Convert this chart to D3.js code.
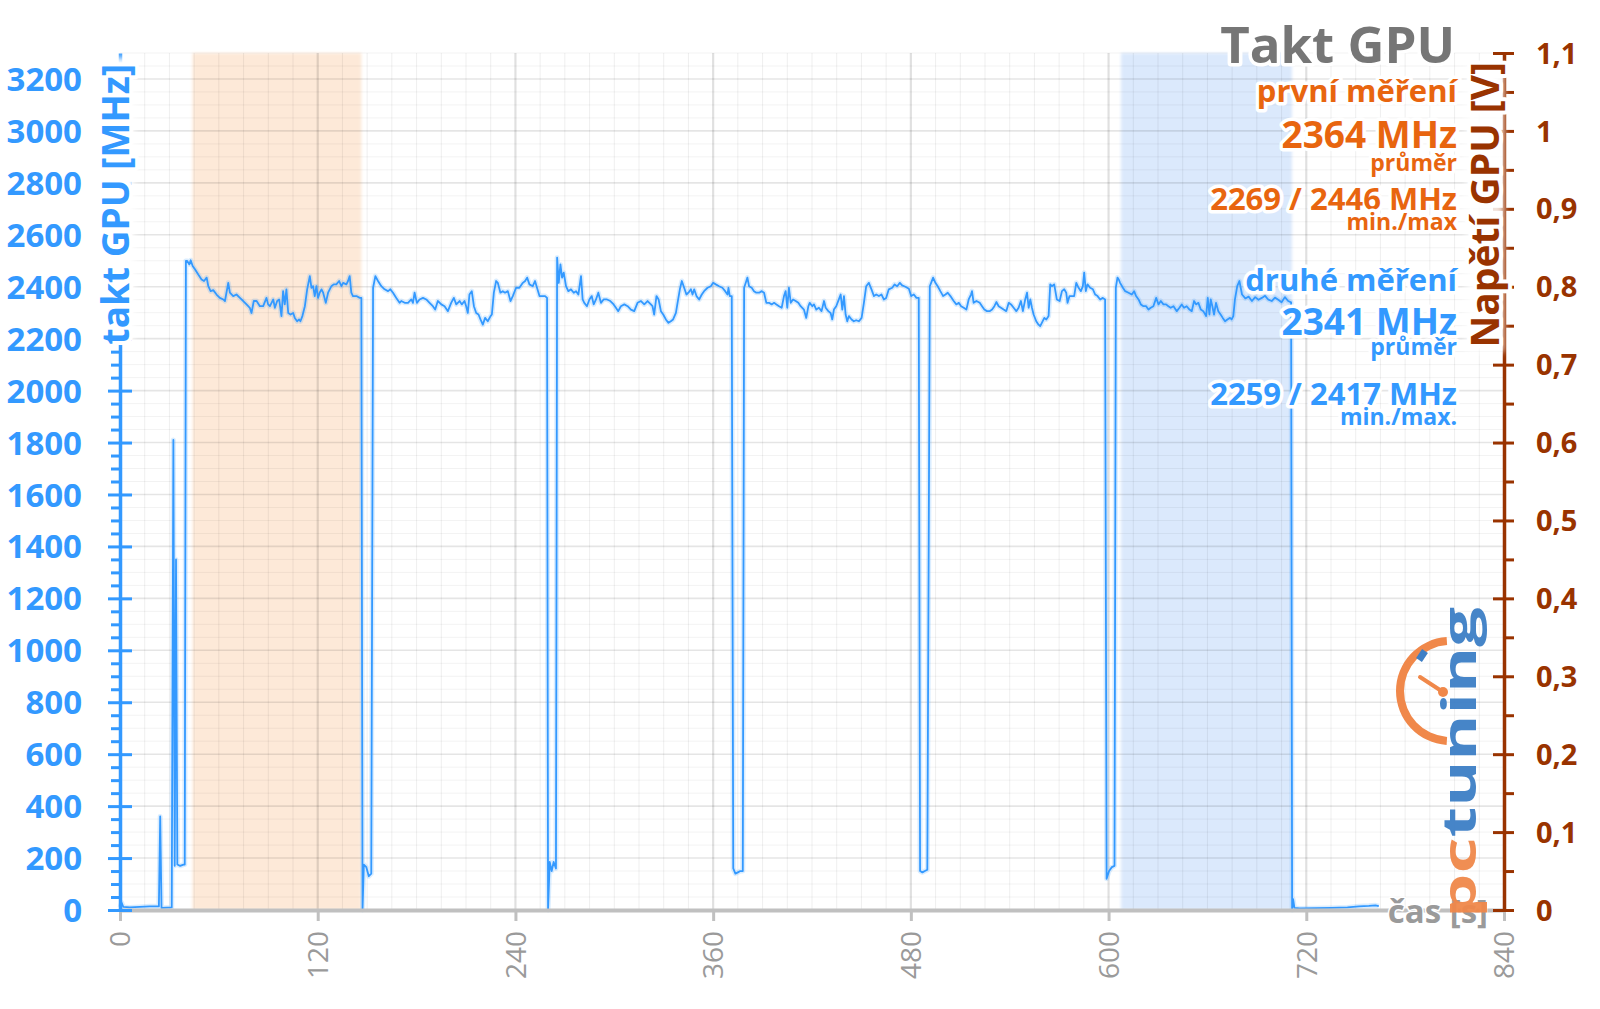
<!DOCTYPE html>
<html><head><meta charset="utf-8">
<script src="https://cdn.jsdelivr.net/npm/d3@7"></script>
<style>body{margin:0;background:#fff}svg{display:block}text{font-family:'Open Sans',sans-serif}</style>
</head><body><svg id="c" width="1600" height="1009"></svg>
<script>
// ---------- DATA (time in s, GPU clock in MHz) ----------
const warmup = [[0,10],[1,28],[2,12],[6,10],[12,12],[18,14],[23.6,14],[24.4,360],[25.2,8],[31.4,10],[32.4,1810],[33.2,170],[34.0,1350],[34.8,175],[36.5,170],[38.5,175],[39.3,175]];
const run1 = [[40.0,2499],[40.8,2499],[42.1,2486],[42.9,2502],[44.1,2480],[45.5,2467],[47.5,2447],[49.5,2428],[51.0,2422],[52.6,2435],[53.6,2402],[55.0,2383],[56.6,2387],[58.6,2370],[60.6,2357],[62.7,2351],[63.7,2345],[65.7,2415],[66.7,2377],[68.7,2364],[70.7,2370],[72.8,2357],[74.8,2345],[76.8,2332],[78.8,2319],[79.8,2299],[81.2,2345],[82.9,2345],[84.9,2325],[86.9,2325],[88.9,2357],[89.9,2332],[91.0,2325],[93.0,2351],[94.0,2319],[95.4,2345],[96.6,2351],[98.0,2287],[99.0,2383],[100.0,2332],[101.0,2390],[102.1,2299],[103.5,2293],[105.1,2299],[106.1,2280],[107.5,2267],[108.7,2274],[109.5,2267],[110.7,2287],[112.2,2325],[113.6,2390],[115.2,2441],[116.2,2396],[117.2,2402],[118.2,2364],[119.2,2402],[120.2,2357],[121.2,2377],[122.3,2390],[123.3,2377],[124.9,2338],[126.3,2377],[128.3,2402],[129.7,2409],[131.3,2409],[133.0,2422],[134.4,2402],[135.4,2415],[137.4,2409],[138.4,2422],[139.4,2441],[140.4,2377],[141.4,2364],[143.5,2364],[145.5,2357],[146.5,2357]];
const dip1 = [[147.2,0],[148,175],[149.5,165],[151,130],[152.5,140]];
const run2 = [[153.6,2396],[155.0,2441],[156.6,2422],[158.6,2402],[160.6,2390],[162.7,2383],[164.1,2390],[165.7,2377],[167.7,2357],[169.7,2338],[170.7,2345],[172.8,2338],[174.8,2338],[176.8,2351],[177.8,2338],[178.8,2377],[180.2,2338],[181.8,2351],[183.9,2357],[185.9,2351],[187.9,2338],[189.9,2325],[191.3,2312],[192.9,2345],[195.0,2332],[197.0,2325],[199.0,2306],[201.0,2338],[202.6,2357],[204.1,2332],[206.1,2345],[207.5,2332],[209.1,2345],[210.1,2325],[211.1,2299],[212.1,2370],[213.5,2383],[214.8,2325],[216.2,2299],[217.6,2293],[218.8,2274],[220.2,2254],[221.6,2280],[223.2,2267],[224.9,2287],[225.7,2293],[226.9,2377],[228.3,2422],[229.3,2415],[230.9,2377],[232.3,2383],[233.7,2377],[235.4,2383],[237.0,2345],[238.4,2364],[240.4,2396],[242.4,2396],[244.5,2415],[245.9,2422],[247.1,2435],[248.5,2409],[250.5,2402],[251.9,2422],[253.1,2396],[254.6,2364],[256.0,2364],[258.0,2364],[259.2,2357]];
const dip2 = [[259.8,0],[260.8,185],[262,150],[263.2,185],[264.6,160]];
const run3 = [[265.3,2512],[266.3,2415],[267.3,2486],[268.3,2435],[269.3,2454],[270.7,2402],[272.1,2383],[273.7,2390],[275.4,2377],[276.8,2383],[278.2,2370],[279.8,2441],[280.8,2351],[281.8,2338],[283.4,2325],[284.9,2351],[286.3,2364],[287.5,2332],[288.9,2351],[290.3,2377],[291.9,2338],[293.5,2351],[295.6,2351],[297.6,2345],[299.6,2332],[301.0,2319],[302.4,2306],[304.0,2325],[306.1,2332],[308.1,2325],[310.1,2312],[312.1,2306],[314.1,2338],[316.2,2345],[318.2,2332],[320.2,2345],[322.2,2332],[323.2,2325],[324.2,2293],[325.6,2364],[326.9,2351],[328.3,2306],[329.7,2293],[331.3,2274],[332.9,2261],[334.3,2267],[335.7,2274],[337.4,2299],[338.4,2338],[339.8,2390],[341.0,2422],[342.4,2396],[343.8,2370],[345.0,2377],[346.5,2390],[347.5,2370],[348.5,2390],[349.9,2364],[351.5,2351],[353.1,2370],[354.5,2383],[356.6,2396],[358.6,2402],[360.0,2415],[361.6,2409],[363.6,2402],[365.6,2396],[367.3,2383],[368.7,2370],[369.3,2396],[370.1,2364],[371.3,2364]];
const dip3 = [[372.2,160],[373.5,140],[375,145],[376.5,150],[378,150]];
const run4 = [[378.8,2396],[379.8,2415],[380.8,2435],[381.8,2402],[383.4,2396],[384.8,2383],[386.2,2377],[387.9,2377],[389.5,2383],[390.9,2377],[392.3,2338],[393.9,2338],[395.5,2332],[397.0,2338],[398.4,2332],[400.0,2325],[401.6,2319],[403.0,2364],[404.0,2383],[405.0,2319],[406.0,2396],[407.1,2338],[408.5,2351],[410.1,2345],[411.7,2338],[413.1,2325],[415.1,2312],[416.5,2280],[417.8,2325],[418.6,2338],[420.2,2325],[421.2,2332],[422.6,2312],[424.2,2319],[425.8,2306],[427.3,2345],[428.3,2319],[429.9,2306],[431.3,2299],[432.3,2274],[433.3,2312],[434.7,2325],[436.3,2351],[437.4,2370],[438.4,2312],[439.4,2364],[440.4,2293],[441.4,2267],[442.4,2287],[444.0,2274],[445.4,2267],[446.8,2271],[448.5,2267],[450.1,2280],[451.5,2338],[452.9,2402],[454.5,2415],[456.1,2390],[457.6,2364],[459.0,2370],[460.6,2364],[462.2,2370],[463.6,2351],[465.0,2357],[466.6,2390],[468.7,2396],[470.1,2409],[471.7,2402],[473.3,2415],[474.7,2405],[476.7,2400],[478.8,2392],[480.2,2364],[481.8,2370],[483.4,2357],[484.8,2357]];
const dip4 = [[485.6,150],[487,145],[488.5,150],[490,155]];
const run5 = [[491.5,2402],[492.3,2415],[493.5,2435],[494.9,2415],[496.3,2402],[497.9,2383],[499.6,2364],[501.0,2370],[502.4,2377],[504.0,2364],[506.0,2345],[507.6,2332],[509.1,2338],[510.5,2325],[512.1,2319],[513.7,2312],[515.1,2351],[516.5,2370],[517.1,2383],[518.1,2338],[519.8,2345],[521.8,2338],[523.2,2325],[524.6,2312],[526.2,2306],[527.8,2306],[529.3,2312],[530.7,2325],[531.9,2341],[533.3,2325],[534.7,2319],[536.3,2312],[537.9,2306],[539.4,2338],[540.8,2332],[542.4,2319],[544.0,2306],[545.4,2319],[546.8,2345],[548.0,2306],[549.4,2351],[550.5,2377],[551.5,2319],[552.5,2351],[553.5,2319],[554.5,2293],[556.1,2267],[557.5,2254],[558.5,2248],[559.5,2261],[561.0,2280],[562.2,2274],[563.6,2287],[564.6,2409],[565.6,2402],[567.0,2409],[568.6,2351],[570.3,2345],[571.7,2383],[573.1,2390],[574.3,2377],[575.1,2338],[576.3,2364],[577.7,2364],[579.1,2364],[580.4,2415],[581.8,2396],[583.2,2383],[584.4,2402],[585.2,2454],[586.2,2383],[587.2,2409],[588.8,2396],[590.5,2390],[591.9,2370],[593.3,2364],[594.9,2351],[596.5,2357],[597.9,2351]];
const dip5 = [[598.8,120],[600.3,150],[602,165],[603.6,170]];
const run6 = [[604.4,2396],[605.4,2435],[606.2,2428],[607.0,2415],[608.7,2396],[610.1,2383],[612.1,2377],[614.1,2370],[615.5,2383],[616.7,2364],[618.2,2351],[619.6,2332],[621.2,2325],[622.8,2325],[624.2,2312],[625.6,2319],[627.2,2325],[628.9,2357],[630.3,2332],[631.7,2345],[633.3,2332],[634.9,2332],[636.3,2325],[637.7,2319],[639.4,2325],[641.4,2306],[643.0,2319],[644.4,2332],[645.8,2319],[647.4,2325],[649.1,2312],[650.5,2306],[651.9,2345],[653.1,2332],[654.5,2338],[656.0,2312],[657.5,2306],[659.2,2287],[660.2,2357],[661.2,2293],[662.0,2351],[663.0,2325],[664.0,2293],[665.2,2338],[666.6,2306],[668.0,2293],[669.3,2280],[670.7,2267],[672.1,2274],[673.7,2280],[674.7,2274],[675.7,2287],[676.7,2351],[678.1,2402],[679.4,2422],[681,2370],[683,2355],[685,2362],[687,2345],[689,2360],[691,2350],[693,2357],[695,2365],[697,2350],[699,2345],[701,2358],[703,2350],[705,2340],[707,2360],[709,2345],[710.8,2340]];
const cooldown = [[711.4,0],[712,42],[712.8,8],[716,6],[725,7],[735,8],[745,10],[752,14],[758,16],[762,18],[764,15]];

const run1Window = [44, 146.5];     // first measurement (s)
const run2Window = [607.5, 711.3];  // second measurement (s)

const xTicks = [0,120,240,360,480,600,720,840];
const clockTicks = [0,200,400,600,800,1000,1200,1400,1600,1800,2000,2200,2400,2600,2800,3000,3200];
const voltTicks = [0,0.1,0.2,0.3,0.4,0.5,0.6,0.7,0.8,0.9,1.0,1.1];
const voltLabels = ['0','0,1','0,2','0,3','0,4','0,5','0,6','0,7','0,8','0,9','1','1,1'];

const titleText = 'Takt GPU';
const run1Texts = ['první měření','2364 MHz','průměr','2269 / 2446 MHz','min./max'];
const run2Texts = ['druhé měření','2341 MHz','průměr','2259 / 2417 MHz','min./max.'];

// ---------- LAYOUT ----------
const L = 120, R = 1504, T = 53, B = 910;
const BLUE = '#3399ff', ORANGE = '#e8650f', BROWN = '#993300', GRAY = '#9a9a9a';

const svg = d3.select('#c');
const defs = svg.append('defs');
defs.append('filter').attr('id','soft').attr('x','-20%').attr('y','-5%').attr('width','140%').attr('height','110%')
  .append('feGaussianBlur').attr('stdDeviation', 1.6);
defs.append('filter').attr('id','glow').attr('x','-30%').attr('y','-10%').attr('width','160%').attr('height','120%')
  .append('feGaussianBlur').attr('stdDeviation', 3);

const x = d3.scaleLinear([0, 840], [L, R]);
const y = d3.scaleLinear([0, 3300], [B, T]);
const yV = d3.scaleLinear([0, 1.1], [B, T]);

// bands
const gB = svg.append('g').attr('filter','url(#soft)');
[[run1Window,'#fde9d8'],[run2Window,'#dbe9fc']].forEach(([w,c]) => {
  gB.append('rect').attr('x', x(w[0])).attr('y', T).attr('width', x(w[1]) - x(w[0])).attr('height', B - T).attr('fill', c);
});

// gridlines
const gG = svg.append('g');
d3.range(0, 3301, 50).filter(v => v % 200 !== 0).forEach(v =>
  gG.append('line').attr('x1', L).attr('x2', R).attr('y1', y(v)).attr('y2', y(v)).attr('stroke','rgba(0,0,0,0.05)').attr('stroke-width',1));
d3.range(0, 841, 15).filter(v => v % 120 !== 0).forEach(v =>
  gG.append('line').attr('x1', x(v)).attr('x2', x(v)).attr('y1', T).attr('y2', B).attr('stroke','rgba(0,0,0,0.065)').attr('stroke-width',1));
clockTicks.filter(v => v > 0).forEach(v =>
  gG.append('line').attr('x1', L).attr('x2', R).attr('y1', y(v)).attr('y2', y(v)).attr('stroke','rgba(0,0,0,0.10)').attr('stroke-width',1.6));
xTicks.filter(v => v > 0 && v < 840).forEach(v =>
  gG.append('line').attr('x1', x(v)).attr('x2', x(v)).attr('y1', T).attr('y2', B).attr('stroke','rgba(0,0,0,0.12)').attr('stroke-width',2.2));

// data line
const series = [].concat(warmup, run1, dip1, run2, dip2, run3, dip3, run4, dip4, run5, dip5, run6, cooldown);
const line = d3.line().x(d => x(d[0])).y(d => y(d[1]));
svg.append('path').datum(series).attr('d', line).attr('fill','none')
  .attr('stroke','rgba(51,153,255,0.18)').attr('stroke-width',5).attr('stroke-linejoin','round');
svg.append('path').datum(series).attr('d', line).attr('fill','none')
  .attr('stroke', BLUE).attr('stroke-width',1.8).attr('stroke-linejoin','round');

// bottom axis
const gX = svg.append('g').attr('transform', `translate(0,${B})`)
  .call(d3.axisBottom(x).tickValues(xTicks).tickSize(11).tickSizeOuter(0));
gX.select('.domain').attr('stroke','#c0c0c0').attr('stroke-width',4);
gX.selectAll('.tick line').attr('stroke','#c0c0c0').attr('stroke-width',3);
gX.selectAll('.tick text').attr('transform','rotate(-90)').attr('x',-21).attr('y',0).attr('dy','0.35em')
  .attr('text-anchor','end').attr('fill',GRAY).attr('font-size',28).attr('font-family',"'Open Sans',sans-serif");

// left axis
const gYm = svg.append('g').attr('transform', `translate(${L},0)`)
  .call(d3.axisLeft(y).tickValues(d3.range(50, 3300, 50).filter(v => v % 200 !== 0)).tickSize(9).tickFormat(''));
gYm.select('.domain').remove();
gYm.selectAll('.tick line').attr('stroke',BLUE).attr('stroke-width',3);
const gY = svg.append('g').attr('transform', `translate(${L},0)`)
  .call(d3.axisLeft(y).tickValues(clockTicks).tickSize(12).tickSizeOuter(0).tickPadding(26).tickFormat(d3.format('d')));
gY.select('.domain').attr('stroke',BLUE).attr('stroke-width',3.5);
gY.selectAll('.tick line').attr('x1',12).attr('stroke',BLUE).attr('stroke-width',3);
gY.selectAll('.tick text').attr('fill',BLUE).attr('font-size',33).attr('font-weight',700).attr('dy','0.35em')
  .attr('font-family',"'Open Sans',sans-serif");

// right axis
const gVm = svg.append('g').attr('transform', `translate(${R},0)`)
  .call(d3.axisRight(yV).tickValues(voltTicks.slice(0,-1).map(v => v + 0.05)).tickSize(10).tickFormat(''));
gVm.select('.domain').remove();
gVm.selectAll('.tick line').attr('stroke',BROWN).attr('stroke-width',3);
const gV = svg.append('g').attr('transform', `translate(${R},0)`)
  .call(d3.axisRight(yV).tickValues(voltTicks).tickSize(10).tickSizeOuter(0).tickPadding(22)
    .tickFormat((d,i) => voltLabels[i]));
gV.select('.domain').attr('stroke',BROWN).attr('stroke-width',3.5);
gV.selectAll('.tick line').attr('x1',-11).attr('stroke',BROWN).attr('stroke-width',3);
gV.selectAll('.tick text').attr('fill',BROWN).attr('font-size',29).attr('font-weight',700).attr('dy','0.35em')
  .attr('font-family',"'Open Sans',sans-serif");

// text helper with white halo
function label(g, tx, ty, str, size, color, opts = {}) {
  const t = g.append('text').attr('x', tx).attr('y', ty).text(str)
    .attr('font-size', size).attr('font-weight', opts.weight || 700).attr('fill', color)
    .attr('text-anchor', opts.anchor || 'end')
    .attr('stroke','#fff').attr('stroke-width', opts.halo == null ? 7 : opts.halo).attr('stroke-linejoin','round')
    .attr('paint-order','stroke');
  if (opts.transform) t.attr('transform', opts.transform);
  return t;
}
// soft white glow behind the axis titles (hides axis line like the original)
svg.append('rect').attr('x',100).attr('y',58).attr('width',34).attr('height',282).attr('fill','#fff').attr('filter','url(#glow)');
svg.append('rect').attr('x',1466).attr('y',64).attr('width',38).attr('height',288).attr('fill','#fff').attr('opacity',0.85).attr('filter','url(#glow)');

const gT = svg.append('g');
label(gT, 0, 0, 'takt GPU [MHz]', 37, BLUE, {transform:'translate(129,64) rotate(-90)', halo: 8});
label(gT, 0, 0, 'Napětí GPU [V]', 39, BROWN, {transform:'translate(1499,62) rotate(-90)', halo: 8});

// logo
const gL = svg.append('g');
gL.append('path').attr('transform','translate(1450,691)')
  .attr('d', d3.arc().innerRadius(46).outerRadius(54).startAngle(Math.PI*1.02).endAngle(Math.PI*1.98)())
  .attr('fill','#f0884a');
gL.append('line').attr('x1',1419).attr('y1',660).attr('x2',1425).attr('y2',651).attr('stroke','#3d7fc6').attr('stroke-width',7);
gL.append('line').attr('x1',1443).attr('y1',692).attr('x2',1420).attr('y2',677).attr('stroke','#f0884a').attr('stroke-width',4).attr('stroke-linecap','round');
gL.append('circle').attr('cx',1443).attr('cy',692).attr('r',5).attr('fill','#f0884a');
const logo = gL.append('text').attr('transform','translate(1476,918) rotate(-90)')
  .attr('font-family',"'DejaVu Sans',sans-serif").attr('font-weight',700).attr('font-size',46)
  .attr('textLength',311).attr('lengthAdjust','spacingAndGlyphs').attr('opacity',0.95);
logo.append('tspan').attr('fill','#f0884a').text('pc');
logo.append('tspan').attr('fill','#3d7fc6').text('tuning');

label(gT, 1488, 923, 'čas [s]', 33, GRAY, {halo: 3});

label(gT, 1455, 63, titleText, 51, '#767676');
const tx = 1457;
label(gT, tx, 102, run1Texts[0], 31, ORANGE);
label(gT, tx, 148, run1Texts[1], 37, ORANGE);
label(gT, tx, 171, run1Texts[2], 23, ORANGE);
label(gT, tx, 210, run1Texts[3], 31, ORANGE);
label(gT, tx, 230, run1Texts[4], 23, ORANGE);
label(gT, tx, 291, run2Texts[0], 31, BLUE);
label(gT, tx, 335, run2Texts[1], 37, BLUE);
label(gT, tx, 355, run2Texts[2], 23, BLUE);
label(gT, tx, 405, run2Texts[3], 31, BLUE);
label(gT, tx, 425, run2Texts[4], 23, BLUE);
</script></body></html>
